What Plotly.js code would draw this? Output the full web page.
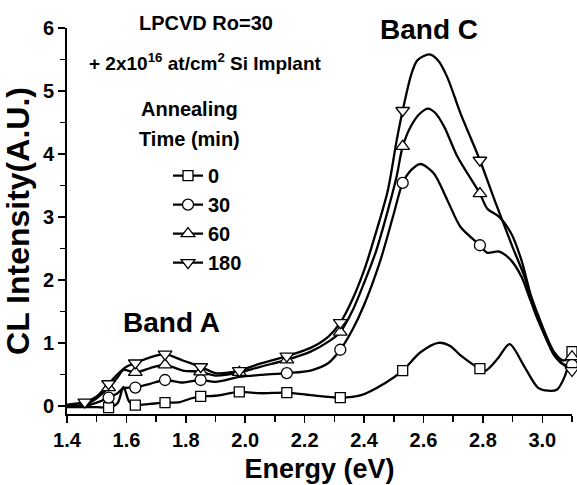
<!DOCTYPE html>
<html>
<head>
<meta charset="utf-8">
<script src="https://cdn.plot.ly/plotly-3.0.1.min.js"></script>
<style>html,body{margin:0;padding:0;background:#fff;}#chart{width:577px;height:485px;}</style>
</head>
<body>
<div id="chart"></div>
<script>
// ---- Data (Energy in eV, CL intensity in A.U.) ----
var seriesNames = ["0", "30", "60", "180"];
var markerSymbols = ["square", "circle", "triangle-up", "triangle-down"];

var x0 = [1.40,1.46,1.50,1.54,1.57,1.59,1.61,1.63,1.68,1.73,1.78,1.82,1.85,1.90,1.98,2.05,2.14,2.22,2.32,2.39,2.47,2.53,2.59,2.65,2.69,2.725,2.79,2.81,2.85,2.89,2.94,2.985,3.02,3.05,3.075,3.10];
var y0 = [-0.02,-0.02,-0.02,-0.03,0.04,0.30,0.06,0.01,0.03,0.05,0.06,0.12,0.15,0.16,0.22,0.20,0.21,0.17,0.13,0.17,0.36,0.56,0.85,1.00,0.95,0.80,0.59,0.56,0.75,0.98,0.62,0.29,0.24,0.26,0.46,0.86];
var m0 = [1.54,1.63,1.73,1.85,1.98,2.14,2.32,2.53,2.79,3.10];

var x30 = [1.40,1.46,1.50,1.54,1.57,1.59,1.63,1.68,1.73,1.79,1.85,1.90,1.98,2.05,2.14,2.22,2.28,2.32,2.36,2.40,2.455,2.50,2.53,2.56,2.59,2.635,2.68,2.725,2.79,2.815,2.855,2.895,2.93,2.96,2.985,3.01,3.04,3.07,3.10];
var y30 = [0.01,0.00,0.05,0.13,0.20,0.28,0.29,0.35,0.41,0.37,0.41,0.38,0.46,0.49,0.52,0.56,0.68,0.89,1.20,1.60,2.31,3.05,3.54,3.75,3.84,3.69,3.27,2.84,2.55,2.43,2.45,2.31,2.05,1.68,1.41,1.10,0.80,0.66,0.65];
var m30 = [1.54,1.63,1.73,1.85,2.14,2.32,2.53,2.79,3.10];

var x60 = [1.40,1.46,1.50,1.54,1.57,1.59,1.63,1.68,1.73,1.79,1.85,1.90,1.98,2.05,2.14,2.22,2.28,2.32,2.36,2.40,2.44,2.48,2.51,2.53,2.56,2.59,2.615,2.64,2.67,2.715,2.79,2.815,2.855,2.895,2.93,2.96,2.985,3.01,3.04,3.07,3.10];
var y60 = [0.00,0.02,0.12,0.29,0.45,0.57,0.53,0.60,0.65,0.56,0.54,0.48,0.53,0.62,0.73,0.86,1.02,1.17,1.50,1.95,2.45,3.10,3.65,4.12,4.46,4.65,4.72,4.65,4.43,3.95,3.37,3.13,3.00,2.74,2.31,1.78,1.45,1.15,0.85,0.72,0.78];
var m60 = [1.54,1.63,1.73,1.85,1.98,2.14,2.32,2.53,2.79,3.10];

var x180 = [1.40,1.46,1.50,1.54,1.57,1.60,1.63,1.68,1.73,1.79,1.85,1.90,1.98,2.05,2.14,2.22,2.28,2.32,2.36,2.40,2.44,2.48,2.51,2.53,2.56,2.58,2.62,2.65,2.68,2.725,2.79,2.84,2.90,2.94,2.97,3.005,3.04,3.07,3.10];
var y180 = [0.02,0.06,0.15,0.35,0.50,0.62,0.68,0.77,0.82,0.72,0.62,0.52,0.56,0.67,0.79,0.92,1.10,1.32,1.68,2.15,2.75,3.42,4.22,4.69,5.28,5.49,5.58,5.48,5.22,4.64,3.90,3.26,2.52,2.05,1.55,1.15,0.83,0.66,0.56];
var m180 = [1.46,1.54,1.63,1.73,1.85,1.98,2.14,2.32,2.53,2.79,3.10];

var xTickLabels = ["1.4","1.6","1.8","2.0","2.2","2.4","2.6","2.8","3.0"];
var yTickLabels = ["0","1","2","3","4","5","6"];

// ---- Build traces ----
var curves = [[x0,y0,m0],[x30,y30,m30],[x60,y60,m60],[x180,y180,m180]];
var font = "Liberation Sans, Arial, Helvetica, sans-serif";
var traces = [];
var lineStyle = {color: "#000", width: 2.3, shape: "spline", smoothing: 0.8};
function markerStyle(i) {
  return {symbol: markerSymbols[i], size: (i === 0 ? 10 : (i === 1 ? 11 : 12)),
          color: "#fff", line: {color: "#000", width: 1.3}};
}
curves.forEach(function (c, i) {
  traces.push({x: c[0], y: c[1], mode: "lines", line: lineStyle,
               showlegend: false, hoverinfo: "skip", legendgroup: "g" + i});
});
curves.forEach(function (c, i) {
  var mx = [], my = [];
  c[2].forEach(function (xv) {
    for (var k = 0; k < c[0].length; k++) {
      if (Math.abs(c[0][k] - xv) < 1e-9) { mx.push(xv); my.push(c[1][k]); break; }
    }
  });
  traces.push({x: mx, y: my, mode: "markers", marker: markerStyle(i),
               showlegend: false, cliponaxis: false, legendgroup: "g" + i});
});
seriesNames.forEach(function (n, i) {
  traces.push({x: [null], y: [null], mode: "lines+markers", name: n,
               line: {color: "#000", width: 2.3}, marker: markerStyle(i),
               legendgroup: "g" + i});
});

var bold = function (s) { return {family: font, size: s, weight: "bold", color: "#000"}; };
function note(x, y, text, size) {
  return {x: x, y: y, xref: "paper", yref: "paper", xanchor: "center", yanchor: "middle",
          text: text, showarrow: false, font: bold(size)};
}

var layout = {
  width: 577, height: 485,
  margin: {l: 67, r: 5, t: 28, b: 71},
  paper_bgcolor: "#fff", plot_bgcolor: "#fff",
  font: {family: font, color: "#000", size: 18, weight: "bold"},
  xaxis: {
    range: [1.4, 3.1], tickmode: "array",
    tickvals: xTickLabels.map(Number), ticktext: xTickLabels,
    ticks: "outside", ticklen: 7, tickwidth: 1.5, tickcolor: "#000",
    minor: {dtick: 0.1, tick0: 1.4, ticks: "outside", ticklen: 6, tickwidth: 1.5, tickcolor: "#000"},
    showline: true, linewidth: 2, linecolor: "#000",
    showgrid: false, zeroline: false,
    tickfont: bold(20),
    title: {text: "Energy (eV)", font: bold(27), standoff: 9}
  },
  yaxis: {
    range: [-0.13, 6], tickmode: "array",
    tickvals: yTickLabels.map(Number), ticktext: yTickLabels,
    ticks: "outside", ticklen: 7, tickwidth: 1.5, tickcolor: "#000",
    minor: {dtick: 0.5, tick0: 0, ticks: "outside", ticklen: 5, tickwidth: 1.5, tickcolor: "#000"},
    showline: true, linewidth: 2, linecolor: "#000",
    showgrid: false, zeroline: false,
    tickfont: bold(20),
    title: {text: "CL Intensity(A.U.)", font: bold(32), standoff: 5}
  },
  legend: {
    x: 0.2, y: 0.668, xanchor: "left", yanchor: "top",
    bgcolor: "rgba(0,0,0,0)", borderwidth: 0,
    font: bold(20),
    tracegroupgap: 0
  },
  annotations: [
    note(0.275, 1.013, "LPCVD Ro=30", 20),
    note(0.275, 0.912, "+ 2x10<sup>16</sup> at/cm<sup>2</sup> Si Implant", 19),
    note(0.2416, 0.790, "Annealing", 20),
    note(0.2416, 0.712, "Time (min)", 20),
    note(0.716, 0.995, "Band C", 28),
    note(0.207, 0.238, "Band A", 28)
  ]
};

Plotly.newPlot("chart", traces, layout, {displayModeBar: false, staticPlot: true});
</script>
</body>
</html>
